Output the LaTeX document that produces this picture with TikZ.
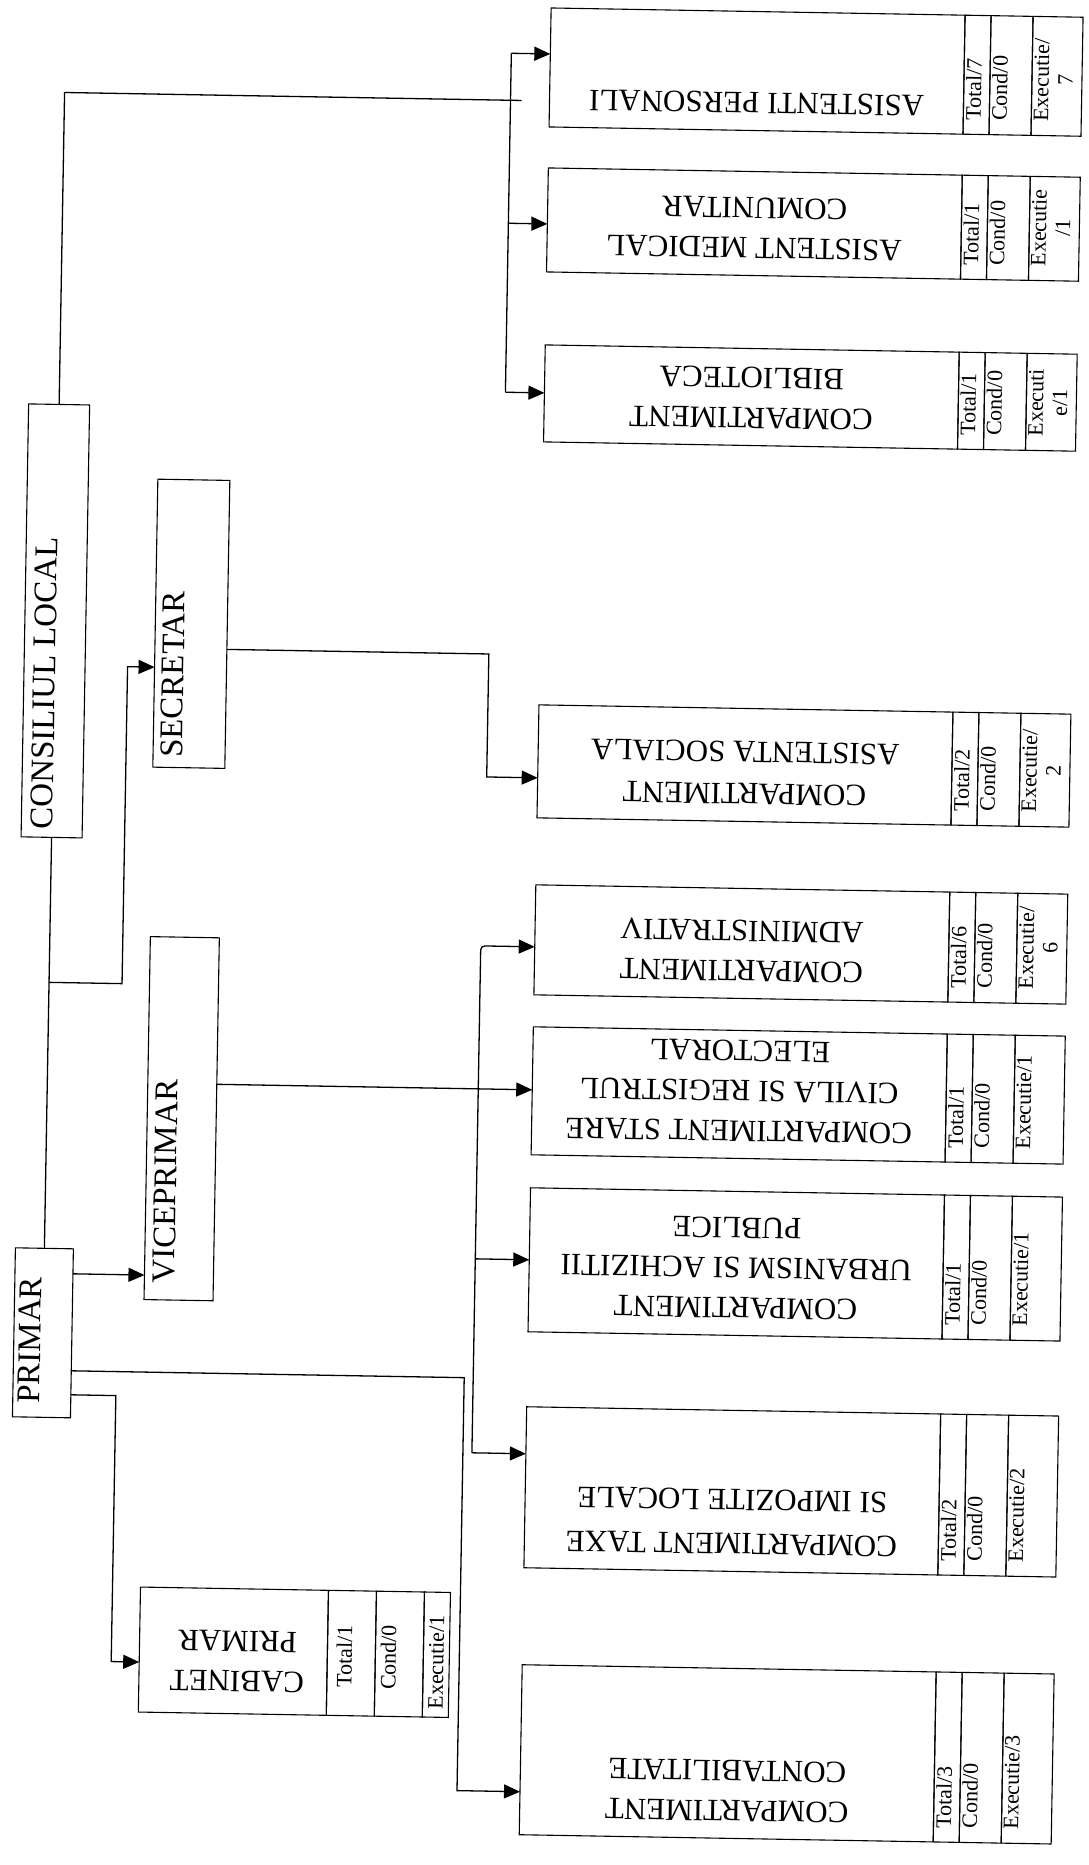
\documentclass[tikz,border=0pt]{standalone}
\usepackage{fontspec}
\setmainfont{Liberation Serif}
\usetikzlibrary{arrows.meta}
\newcommand{\deptbox}[7]{%
  \node[box, minimum width=414pt, minimum height=#3pt] (#1) at (742,#2) {};
  \node[box, minimum width=26pt, minimum height=#3pt, anchor=west] (#1-t) at (#1.east) {};
  \node[box, minimum width=42pt, minimum height=#3pt, anchor=west] (#1-c) at (#1-t.east) {};
  \node[box, minimum width=50pt, minimum height=#3pt, anchor=west] (#1-e) at (#1-c.east) {};
  \node[dlbl] (#1-l) at (742,{#2+#3/2-17}) {#4};
  \node[cell] (#1-tt) at (951,{#2+#3/2-14}) {#5};
  \node[cell] (#1-ct) at (977,{#2+#3/2-14}) {#6};
  \node[cell] (#1-et) at (1019,{#2+#3/2-14}) {#7};
}
\begin{document}
\begin{tikzpicture}[x=1pt,y=-1pt,
  box/.style={draw, line width=1.1pt, rectangle, inner sep=0pt, outer sep=0pt},
  lbl/.style={font=\fontsize{33}{38}\selectfont, inner sep=0pt, rotate=90},
  dlbl/.style={font=\fontsize{31}{40}\selectfont, inner sep=0pt, rotate=180, align=center, anchor=north},
  cell/.style={font=\fontsize{22}{24}\selectfont, inner sep=0pt, rotate=90, anchor=north west, align=center},
  cellc/.style={cell, anchor=center},
  conn/.style={line width=1.3pt},
  arr/.style={conn, -{Triangle[length=16pt,width=14pt]}}]
\fill[white] (0,0) rectangle (1089,1865);
\useasboundingbox (0,0) rectangle (1089,1865);
\begin{scope}[rotate around={-1:(545,932)}, transform shape]
% left column
\node[box, minimum width=61pt, minimum height=433pt] (cl) at (50,629.5) {};
\node[lbl] (cl-l) at (40,692) {CONSILIUL LOCAL};
\node[box, minimum width=72pt, minimum height=288pt] (sec) at (186,630) {};
\node[lbl] (sec-l) at (168.5,681) {SECRETAR};
\node[box, minimum width=69pt, minimum height=363pt] (vice) at (185,1125) {};
\node[lbl] (vice-l) at (170,1188) {VICEPRIMAR};
\node[box, minimum width=58pt, minimum height=169pt] (pri) at (50,1341.5) {};
\node[lbl] (pri-l) at (37,1349) {PRIMAR};
% cabinet
\node[box, minimum width=188pt, minimum height=125pt] (cab) at (246,1656.5) {};
\node[box, minimum width=48pt, minimum height=125pt, anchor=west] (cab-t) at (cab.east) {};
\node[box, minimum width=48pt, minimum height=125pt, anchor=west] (cab-c) at (cab-t.east) {};
\node[box, minimum width=26pt, minimum height=125pt, anchor=west] (cab-e) at (cab-c.east) {};
\node[dlbl] (cab-l) at (250,1697) {CABINET\\PRIMAR};
\node[cellc] (cab-tt) at (357,1660) {Total/1};
\node[cellc] (cab-ct) at (401,1660) {Cond/0};
\node[cellc] (cab-et) at (449,1664) {Executie/1};
% departments
\deptbox{ap}{67.5}{119}{ASISTENTI PERSONALI}{Total/7}{Cond/0}{Executie/\\7}
\deptbox{am}{220}{104}{ASISTENT MEDICAL\\COMUNITAR}{Total/1}{Cond/0}{Executie\\/1}
\deptbox{bib}{393.5}{97}{COMPARTIMENT\\BIBLIOTECA}{Total/1}{Cond/0}{Executi\\e/1}
\deptbox{soc}{761.5}{113}{COMPARTIMENT\\[2pt]ASISTENTA SOCIALA}{Total/2}{Cond/0}{Executie/\\2}
\deptbox{adm}{940}{110}{COMPARTIMENT\\ADMINISTRATIV}{Total/6}{Cond/0}{Executie/\\6}
\deptbox{sta}{1091}{128}{COMPARTIMENT STARE\\CIVILA SI REGISTRUL\\ELECTORAL}{Total/1}{Cond/0}{Executie/1}
\deptbox{urb}{1260}{144}{COMPARTIMENT\\URBANISM SI ACHIZITII\\PUBLICE}{Total/1}{Cond/0}{Executie/1}
\deptbox{tax}{1487.5}{161}{COMPARTIMENT TAXE\\[4pt]SI IMPOZITE LOCALE}{Total/2}{Cond/0}{Executie/2}
\deptbox{con}{1750}{170}{COMPARTIMENT\\CONTABILITATE}{Total/3}{Cond/0}{Executie/3}
% connector coordinates
\coordinate (c1) at (507,101);
\coordinate (b1) at (496,54);
\coordinate (b2) at (496,224);
\coordinate (b3) at (496,393);
\coordinate (t1) at (50,991);
\coordinate (s1) at (123,674);
\coordinate (s2) at (484,655);
\coordinate (s3) at (484,778);
\coordinate (p1) at (80,1282);
\coordinate (v1) at (220,1090);
\coordinate (m1) at (481,947);
\coordinate (m3) at (481,1260);
\coordinate (m2) at (481,1454);
\coordinate (q1) at (472,1379);
\coordinate (q2) at (472,1792);
\coordinate (r1) at (124,1403);
\coordinate (r2) at (124,1669);
% consiliul local branch
\draw[conn] (cl.north) |- (c1);
\draw[conn] (b1) -- (b3);
\draw[arr] (b1) -- (b1 -| ap.west);
\draw[arr] (b2) -- (b2 -| am.west);
\draw[arr] (b3) -- (b3 -| bib.west);
% trunk
\draw[conn] (cl.south) -- (pri.north);
% secretar
\draw[arr] (t1) -| (s1) -- (s1 -| sec.west);
\draw[arr] (sec.east |- s2) -- (s2) -- (s3) -- (s3 -| soc.west);
% primar -> viceprimar
\draw[arr] (pri.east |- p1) -- (p1 -| vice.west);
% viceprimar -> stare civila
\draw[arr] (vice.east |- v1) -- (v1 -| sta.west);
% middle bus
\draw[arr, rounded corners=4pt] (m2) -- (m1) -- (m1 -| adm.west);
\draw[arr] (m3) -- (m3 -| urb.west);
\draw[arr] (m2) -- (m2 -| tax.west);
% primar -> contabilitate
\draw[arr] (pri.east |- q1) -- (q1) -- (q2) -- (q2 -| con.west);
% primar -> cabinet
\draw[arr] (pri.east |- r1) -- (r1) -- (r2) -- (r2 -| cab.west);
\end{scope}
\end{tikzpicture}
\end{document}
